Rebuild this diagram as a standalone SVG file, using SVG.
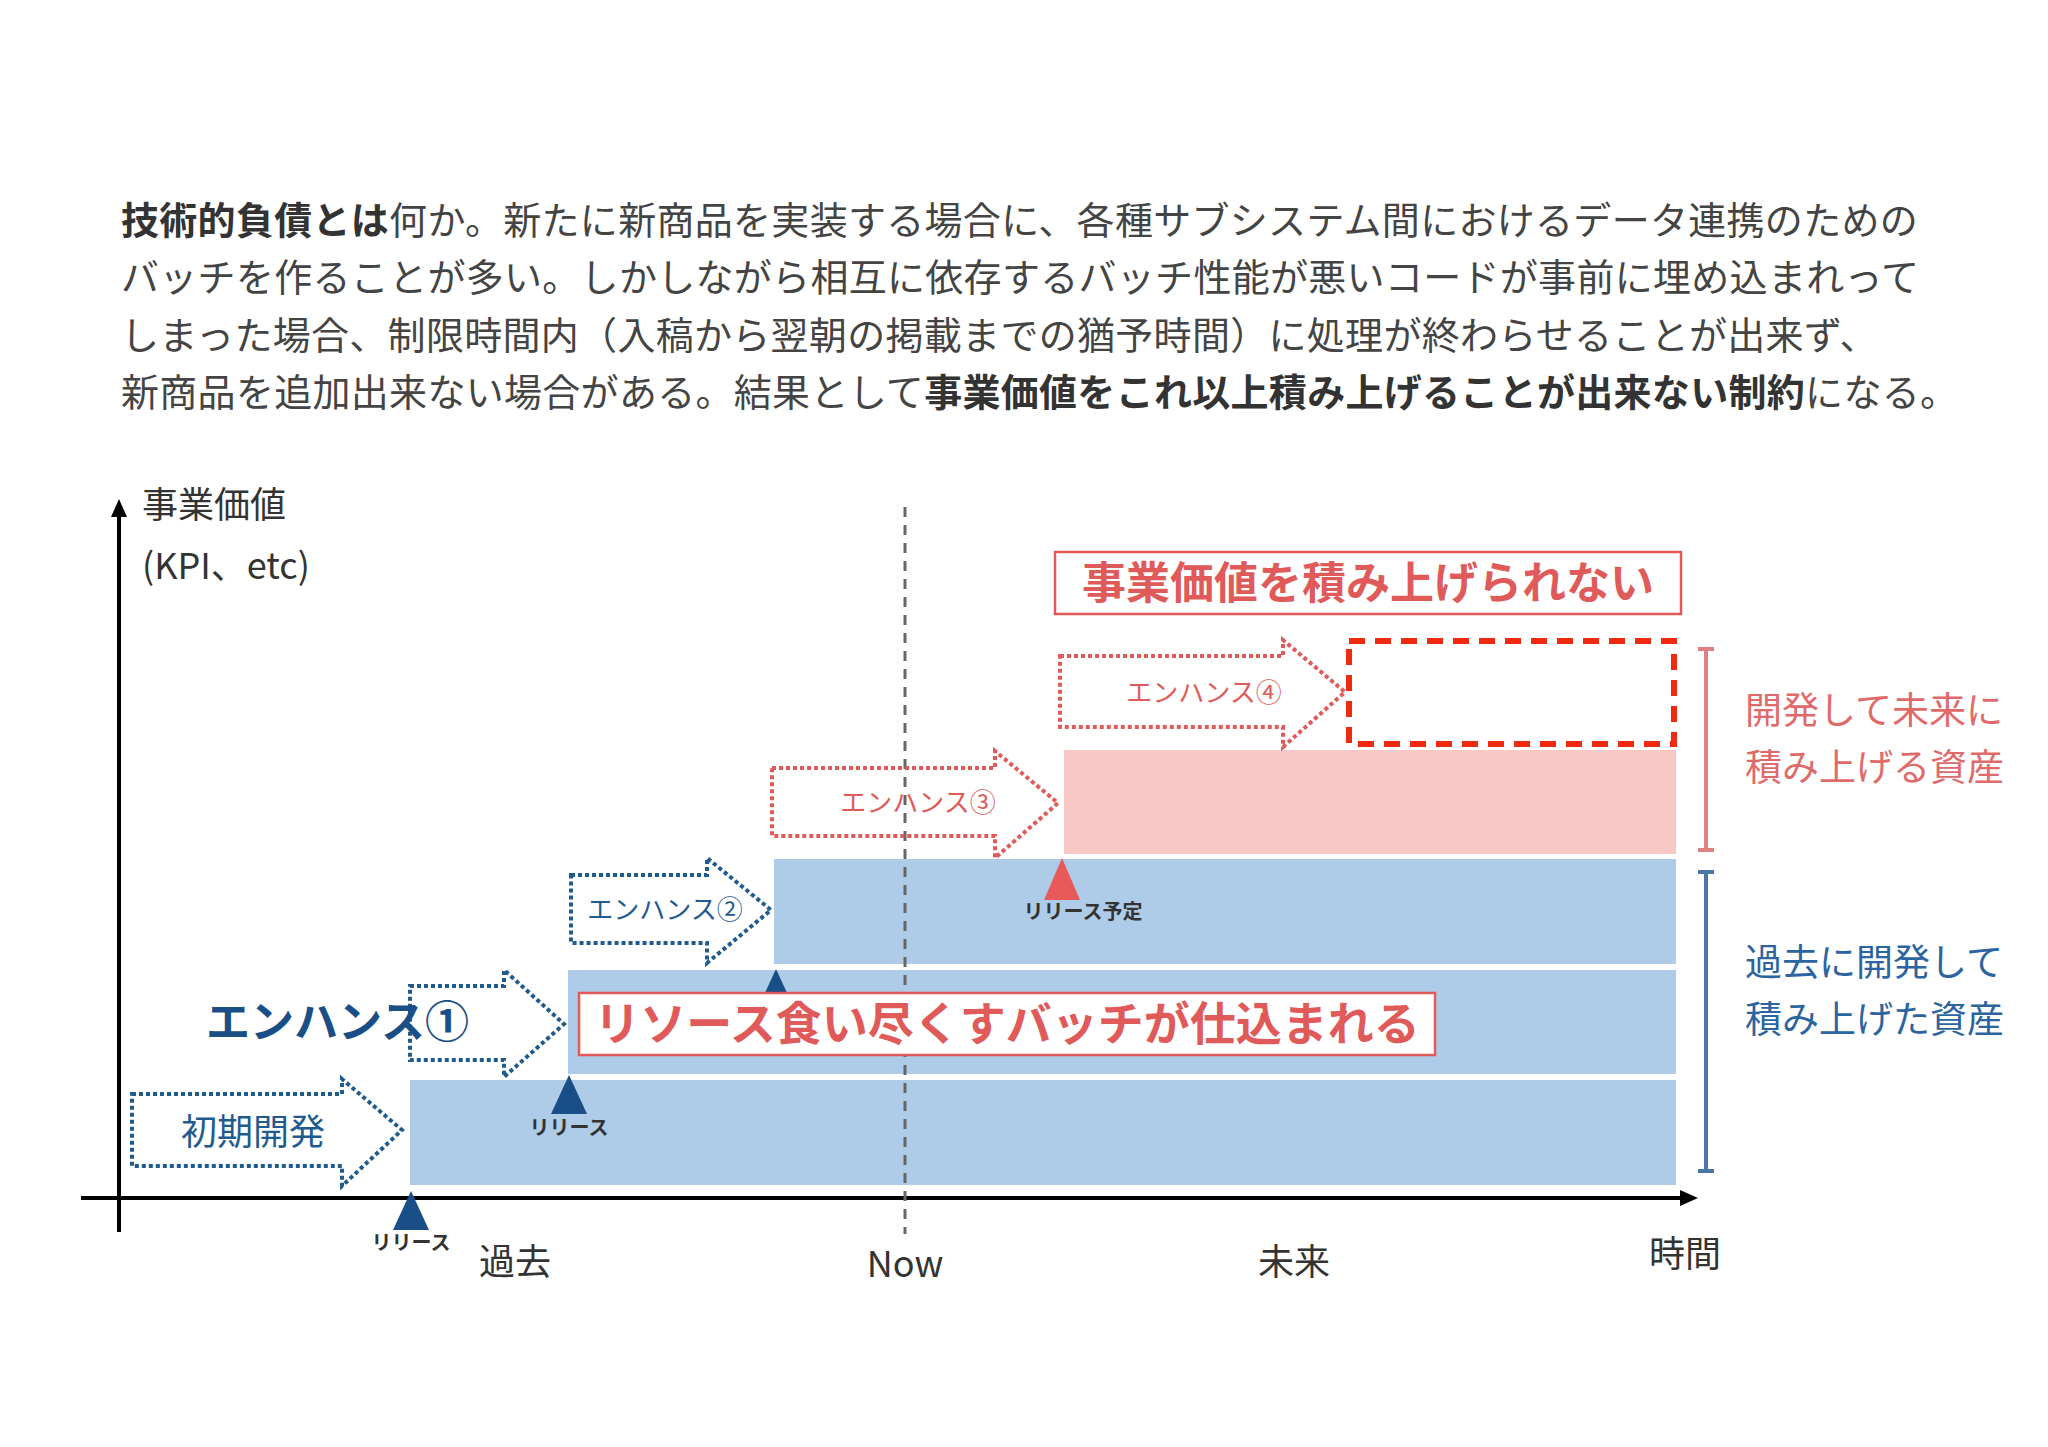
<svg xmlns="http://www.w3.org/2000/svg" width="2048" height="1447" viewBox="0 0 2048 1447">
<style>
text{font-family:"Noto Sans CJK JP","Liberation Sans",sans-serif}
.p{font-size:38px;fill:#444;letter-spacing:0.3px}
.b{font-weight:bold;fill:#333}
.ax{font-size:36px;fill:#333}
.bar{fill:#aecbe8}
.da{fill:none;stroke-width:4;stroke-dasharray:4 3}
.blue{stroke:#1f5b8e}
.red{stroke:#e05a5a}
.rl{font-size:20px;font-weight:bold;fill:#333;text-anchor:middle}
</style>
<defs>
<marker id="ah" markerWidth="18" markerHeight="16" refX="14" refY="8" orient="auto" markerUnits="userSpaceOnUse"><path d="M0,0 L18,8 L0,16 Z" fill="#000"/></marker>
</defs>
<g id="paragraph">
<text class="p" x="121" y="234"><tspan class="b">技術的負債とは</tspan>何か。新たに新商品を実装する場合に、各種サブシステム間におけるデータ連携のための</text>
<text class="p" x="121" y="291">バッチを作ることが多い。しかしながら相互に依存するバッチ性能が悪いコードが事前に埋め込まれって</text>
<text class="p" x="121" y="349">しまった場合、制限時間内（入稿から翌朝の掲載までの猶予時間）に処理が終わらせることが出来ず、</text>
<text class="p" x="121" y="406">新商品を追加出来ない場合がある。結果として<tspan class="b">事業価値をこれ以上積み上げることが出来ない制約</tspan>になる。</text>
</g>
<g id="bars">
<rect class="bar" x="410" y="1080" width="1266" height="105"/>
<rect class="bar" x="568" y="970" width="1108" height="104"/>
<rect class="bar" x="774" y="859" width="902" height="105"/>
<rect x="1064" y="750" width="612" height="104" fill="#f7c8c6"/>
<rect x="1349" y="641" width="325" height="103" fill="none" stroke="#f02a10" stroke-width="6" stroke-dasharray="16 10"/>
</g>
<g id="connectors">
<line x1="119" y1="1232" x2="119" y2="503" stroke="#000" stroke-width="4" marker-end="url(#ah)"/>
<line x1="81" y1="1198" x2="1694" y2="1198" stroke="#000" stroke-width="4" marker-end="url(#ah)"/>
<line x1="905" y1="507" x2="905" y2="1234" stroke="#666" stroke-width="3" stroke-dasharray="10 8"/>
</g>
<g id="axis-labels">
<text class="ax" x="142" y="518">事業価値</text>
<text class="ax" x="142" y="579" font-family="Liberation Sans,sans-serif">(KPI、etc)</text>
<text class="ax" x="515" y="1275" text-anchor="middle">過去</text>
<text class="ax" x="905" y="1277" text-anchor="middle" font-family="Liberation Sans,sans-serif">Now</text>
<text class="ax" x="1294" y="1275" text-anchor="middle">未来</text>
<text class="ax" x="1685" y="1267" text-anchor="middle">時間</text>
</g>
<g id="shoki">
<path class="da blue" d="M132,1094 H342 V1079 L402,1130 L342,1186 V1166 H132 Z"/>
<text x="253" y="1145" font-size="36" fill="#1f5b8e" text-anchor="middle">初期開発</text>
</g>
<g id="enh1">
<path class="da blue" d="M410,986 H504 V970 L564,1024 L504,1077 V1060 H410 Z"/>
<text x="206" y="1038" font-size="44" font-weight="bold" fill="#1a4e86">エンハンス①</text>
</g>
<g id="enh2">
<path class="da blue" d="M571,875 H707 V858 L771,910 L707,963 V943 H571 Z"/>
<text x="665" y="919" font-size="26" fill="#1f5b8e" text-anchor="middle">エンハンス②</text>
</g>
<g id="enh3">
<path class="da red" d="M772,768 H995 V751 L1058,803 L995,858 V836 H772 Z"/>
<text x="918" y="812" font-size="26" fill="#e05a5a" text-anchor="middle">エンハンス③</text>
</g>
<g id="enh4">
<path class="da red" d="M1060,656 H1283 V640 L1345,692 L1283,747 V727 H1060 Z"/>
<text x="1204" y="702" font-size="26" fill="#e05a5a" text-anchor="middle">エンハンス④</text>
</g>
<g id="releases">
<path d="M411,1191 L429,1230 L393,1230 Z" fill="#1a4e86"/>
<text class="rl" x="411" y="1250">リリース</text>
<path d="M569,1075 L587,1114 L551,1114 Z" fill="#1a4e86"/>
<text class="rl" x="569" y="1135">リリース</text>
<path d="M776,969 L794,1008 L758,1008 Z" fill="#1a4e86"/>
<path d="M1062,858 L1080,900 L1044,900 Z" fill="#e85a5a"/>
<text class="rl" x="1083" y="919">リリース予定</text>
</g>
<g id="label-batch">
<rect x="579" y="993" width="856" height="62" fill="#fff" stroke="#e05a5a" stroke-width="2.5"/>
<text x="1007" y="1040" font-size="46" font-weight="bold" fill="#e05a5a" text-anchor="middle">リソース食い尽くすバッチが仕込まれる</text>
</g>
<g id="label-cannot">
<rect x="1055" y="552" width="626" height="62" fill="#fff" stroke="#e05a5a" stroke-width="2.5"/>
<text x="1368" y="599" font-size="44" font-weight="bold" fill="#e05a5a" text-anchor="middle">事業価値を積み上げられない</text>
</g>
<g id="brackets">
<path d="M1698,649 H1714 M1706,649 V850 M1698,850 H1714" stroke="#e08080" stroke-width="4" fill="none"/>
<path d="M1698,872 H1714 M1706,872 V1171 M1698,1171 H1714" stroke="#4a76a8" stroke-width="4" fill="none"/>
<text x="1745" y="724" font-size="37" fill="#e06a6a">開発して未来に</text>
<text x="1745" y="781" font-size="37" fill="#e06a6a">積み上げる資産</text>
<text x="1745" y="976" font-size="37" fill="#2b64a0">過去に開発して</text>
<text x="1745" y="1033" font-size="37" fill="#2b64a0">積み上げた資産</text>
</g>
</svg>
